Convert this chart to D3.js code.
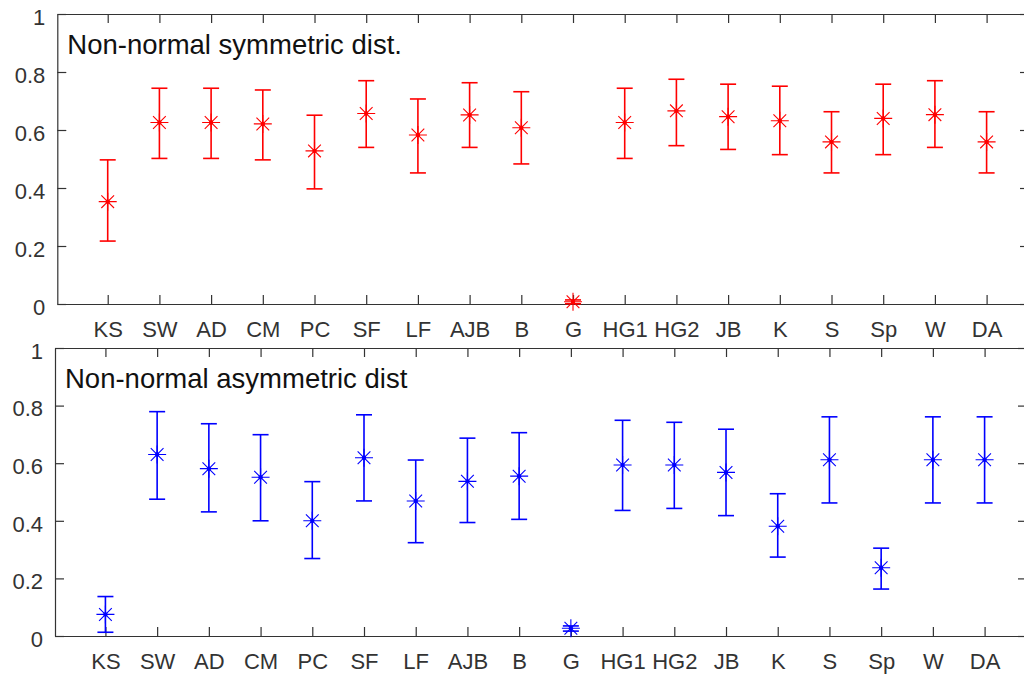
<!DOCTYPE html>
<html>
<head>
<meta charset="utf-8">
<script src="https://cdn.jsdelivr.net/npm/d3@7"></script>
<style>
  body { margin: 0; background: #fff; }
  svg { display: block; font-family: "Liberation Sans", Arial, sans-serif; }
</style>
</head>
<body>
<div id="chart"></div>
<script>
// test names on the x axis
var tests = ["KS", "SW", "AD", "CM", "PC", "SF", "LF", "AJB", "B", "G",
             "HG1", "HG2", "JB", "K", "S", "Sp", "W", "DA"]
var yTicks = [0, 0.2, 0.4, 0.6, 0.8, 1]

// Non-normal symmetric dist.
var symMean  = [0.353, 0.626, 0.626, 0.621, 0.528, 0.657, 0.583, 0.652, 0.608, 0.008,
                0.626, 0.666, 0.646, 0.632, 0.559, 0.640, 0.653, 0.559]
var symLower = [0.217, 0.502, 0.502, 0.497, 0.397, 0.540, 0.452, 0.540, 0.483, 0.001,
                0.502, 0.546, 0.533, 0.515, 0.452, 0.515, 0.540, 0.452]
var symUpper = [0.497, 0.744, 0.744, 0.738, 0.651, 0.770, 0.707, 0.763, 0.732, 0.014,
                0.744, 0.775, 0.758, 0.751, 0.663, 0.758, 0.770, 0.663]

// Non-normal asymmetric dist
var asymMean  = [0.075, 0.630, 0.581, 0.551, 0.400, 0.619, 0.469, 0.537, 0.555, 0.027,
                 0.594, 0.594, 0.568, 0.381, 0.612, 0.237, 0.612, 0.612]
var asymLower = [0.013, 0.475, 0.431, 0.400, 0.269, 0.469, 0.324, 0.394, 0.405, 0.017,
                 0.436, 0.443, 0.418, 0.274, 0.462, 0.163, 0.462, 0.462]
var asymUpper = [0.137, 0.779, 0.737, 0.699, 0.536, 0.768, 0.611, 0.687, 0.706, 0.035,
                 0.749, 0.742, 0.718, 0.494, 0.761, 0.305, 0.761, 0.761]

var width = 1024
var height = 677
var xLim = [0.025, 18.82]
var tickLen = 9
var capHalf = 8
var armLen = 9

var svg = d3.select('#chart')
            .append('svg')
            .attr('width', width)
            .attr('height', height)

function drawPanel (box, title, color, mean, lower, upper) {
    var x = d3.scaleLinear().domain(xLim).range([box.left, box.right])
    var y = d3.scaleLinear().domain([0, 1]).range([box.bottom, box.top])

    var g = svg.append('g')
    var idx = d3.range(1, tests.length + 1)

    // frame + ticks (ticks point inward like MATLAB)
    var bottomAxis = d3.axisBottom(x).tickValues(idx)
                        .tickFormat(function (d) { return tests[d - 1] })
                        .tickSizeInner(-tickLen).tickSizeOuter(0).tickPadding(17.5)
    var topAxis = d3.axisTop(x).tickValues(idx).tickFormat('')
                        .tickSizeInner(-tickLen).tickSizeOuter(0)
    var leftAxis = d3.axisLeft(y).tickValues(yTicks).tickFormat(d3.format('~g'))
                        .tickSizeInner(-tickLen).tickSizeOuter(0).tickPadding(12)
    var rightAxis = d3.axisRight(y).tickValues(yTicks).tickFormat('')
                        .tickSizeInner(-tickLen).tickSizeOuter(0)

    var axes = [
        g.append('g').attr('transform', 'translate(0,' + box.bottom + ')').call(bottomAxis),
        g.append('g').attr('transform', 'translate(0,' + box.top + ')').call(topAxis),
        g.append('g').attr('transform', 'translate(' + box.left + ',0)').call(leftAxis),
        g.append('g').attr('transform', 'translate(' + box.right + ',0)').call(rightAxis)
    ]
    axes.forEach(function (a) {
        a.selectAll('path, line').attr('stroke', '#333').attr('stroke-width', 1.2)
        a.selectAll('text').attr('fill', '#333').style('font-size', '22px')
        a.attr('font-family', null).attr('font-size', null)
    })
    axes[2].selectAll('text').attr('dy', '0.47em')

    g.append('text')
        .attr('x', box.left + 10)
        .attr('y', box.top + 40)
        .attr('fill', '#111')
        .style('font-size', '27.5px')
        .text(title)

    var marks = g.selectAll('.eb')
                  .data(idx)
                  .enter()
                  .append('g')
                    .attr('class', 'eb')
                    .attr('stroke', color)
                    .attr('fill', color)

    marks.append('line')
        .attr('x1', function (d) { return x(d) })
        .attr('x2', function (d) { return x(d) })
        .attr('y1', function (d) { return y(lower[d - 1]) })
        .attr('y2', function (d) { return y(upper[d - 1]) })
        .attr('stroke-width', 1.6)
    ;[lower, upper].forEach(function (arr) {
        marks.append('line')
            .attr('x1', function (d) { return x(d) - capHalf })
            .attr('x2', function (d) { return x(d) + capHalf })
            .attr('y1', function (d) { return y(arr[d - 1]) })
            .attr('y2', function (d) { return y(arr[d - 1]) })
            .attr('stroke-width', 1.6)
    })

    // asterisk marker
    var diag = armLen / Math.SQRT2
    marks.append('path')
        .attr('d', function (d) {
            var cx = x(d), cy = y(mean[d - 1])
            return 'M' + (cx - armLen) + ',' + cy + 'H' + (cx + armLen) +
                   'M' + cx + ',' + (cy - armLen) + 'V' + (cy + armLen) +
                   'M' + (cx - diag) + ',' + (cy - diag) + 'L' + (cx + diag) + ',' + (cy + diag) +
                   'M' + (cx - diag) + ',' + (cy + diag) + 'L' + (cx + diag) + ',' + (cy - diag)
        })
        .attr('fill', 'none')
        .attr('stroke-width', 1.1)
    marks.append('circle')
        .attr('cx', function (d) { return x(d) })
        .attr('cy', function (d) { return y(mean[d - 1]) })
        .attr('r', 2.2)
        .attr('stroke', 'none')
}

drawPanel({ left: 57.3, right: 1029, top: 14, bottom: 304 },
          'Non-normal symmetric dist.', '#ff0000', symMean, symLower, symUpper)
drawPanel({ left: 55, right: 1027, top: 348, bottom: 636 },
          'Non-normal asymmetric dist', '#0000ff', asymMean, asymLower, asymUpper)
</script>
</body>
</html>
